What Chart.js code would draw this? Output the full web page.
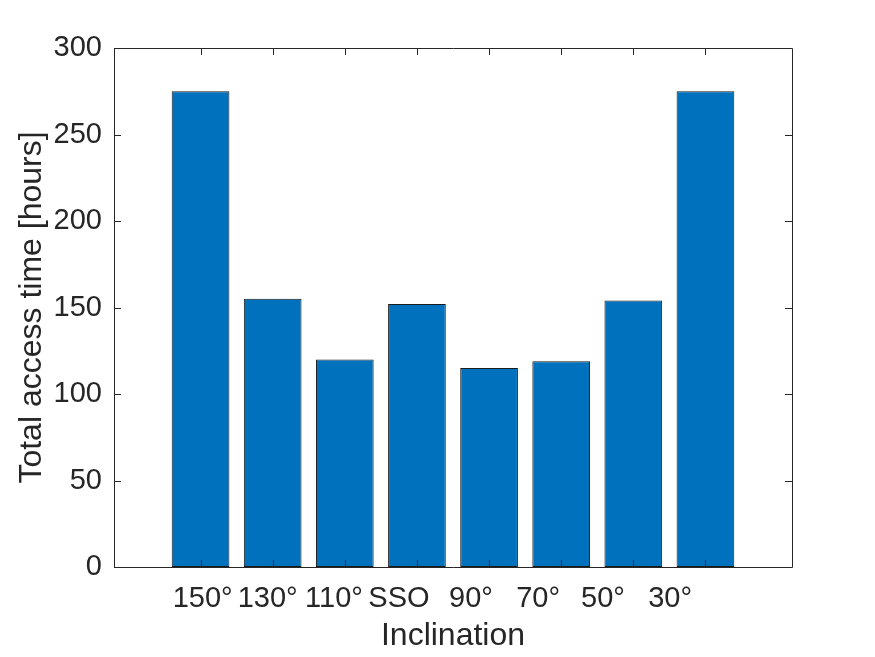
<!DOCTYPE html>
<html lang="en">
<head>
    <meta charset="UTF-8">
    <title>Total access time by inclination</title>
    <script src="https://cdn.jsdelivr.net/npm/chart.js"></script>
    <style>
        body { margin: 0; background: #fff; }
        #wrap { width: 875px; height: 657px; }
    </style>
</head>
<body>
<div id="wrap"><canvas id="accessChart"></canvas></div>
<script>
    // Data
    const inclinations = ['150°', '130°', '110°', 'SSO', '90°', '70°', '50°', '30°'];
    const barPositions = [1, 2, 3, 4, 5, 6, 7, 8];
    const accessHours = [275, 155, 120, 152, 115, 119, 154, 275];
    // the tick labels in the original sit slightly off the bars
    const labelPositions = [1.03, 1.93, 2.85, 3.75, 4.75, 5.68, 6.58, 7.51];
    const yTicks = [0, 50, 100, 150, 200, 250, 300];

    const axisColor = '#262626';
    const tickFont = { family: 'Liberation Sans, Arial, sans-serif', size: 29 };
    const titleFont = { family: 'Liberation Sans, Arial, sans-serif', size: 32 };

    // box around the axes + inward tick marks (MATLAB style)
    const boxPlugin = {
        id: 'box',
        afterDatasetsDraw(chart) {
            const { ctx, chartArea: a, scales } = chart;
            const len = 7;
            ctx.save();
            ctx.strokeStyle = axisColor;
            ctx.lineWidth = 1;
            ctx.beginPath();
            ctx.rect(a.left + 0.5, a.top + 0.5, a.right - a.left, a.bottom - a.top);
            barPositions.forEach(p => {
                const x = Math.round(scales.x.getPixelForValue(p)) + 0.5;
                ctx.moveTo(x, a.bottom); ctx.lineTo(x, a.bottom - len);
                ctx.moveTo(x, a.top); ctx.lineTo(x, a.top + len);
            });
            yTicks.forEach(v => {
                const y = Math.round(scales.y.getPixelForValue(v)) + 0.5;
                ctx.moveTo(a.left, y); ctx.lineTo(a.left + len, y);
                ctx.moveTo(a.right, y); ctx.lineTo(a.right - len, y);
            });
            ctx.stroke();
            ctx.restore();
        }
    };

    const ctx = document.getElementById('accessChart').getContext('2d');
    new Chart(ctx, {
        type: 'bar',
        data: {
            datasets: [{
                data: barPositions.map((p, i) => ({ x: p, y: accessHours[i] })),
                backgroundColor: '#0072BD',
                borderColor: '#1a1a1a',
                borderWidth: 1,
                borderSkipped: false,
                barPercentage: 0.8,
                categoryPercentage: 1.0
            }]
        },
        options: {
            responsive: true,
            maintainAspectRatio: false,
            animation: false,
            layout: { padding: { left: 0, top: 48, right: 83, bottom: 0 } },
            plugins: { legend: { display: false }, tooltip: { enabled: false } },
            scales: {
                // axis the bars live on: ticks at the bar centres, no labels
                x: {
                    type: 'linear',
                    min: -0.2,
                    max: 9.2,
                    offset: false,
                    grid: { display: false, drawTicks: false },
                    border: { display: false },
                    afterBuildTicks(scale) {
                        scale.ticks = barPositions.map(v => ({ value: v }));
                    },
                    afterFit(scale) { scale.height = 0; },
                    ticks: { display: false }
                },
                // same range, only carries the (shifted) category labels
                xl: {
                    type: 'linear',
                    position: 'bottom',
                    min: -0.2,
                    max: 9.2,
                    offset: false,
                    grid: { display: false, drawTicks: false },
                    border: { display: false },
                    afterBuildTicks(scale) {
                        scale.ticks = labelPositions.map(v => ({ value: v }));
                    },
                    afterFit(scale) { scale.height = 90; },
                    ticks: {
                        autoSkip: false,
                        maxRotation: 0,
                        padding: 15,
                        color: axisColor,
                        font: tickFont,
                        callback: (v, i) => inclinations[i]
                    },
                    title: {
                        display: true,
                        text: 'Inclination',
                        color: axisColor,
                        font: titleFont,
                        padding: 2
                    }
                },
                y: {
                    min: 0,
                    max: 300,
                    grid: { display: false, drawTicks: false },
                    border: { display: false },
                    afterBuildTicks(scale) {
                        scale.ticks = yTicks.map(v => ({ value: v }));
                    },
                    afterFit(scale) { scale.width = 114; },
                    ticks: {
                        padding: 12,
                        color: axisColor,
                        font: tickFont
                    },
                    title: {
                        display: true,
                        text: 'Total access time [hours]',
                        color: axisColor,
                        font: titleFont,
                        padding: 13
                    }
                }
            }
        },
        plugins: [boxPlugin]
    });
</script>
</body>
</html>
